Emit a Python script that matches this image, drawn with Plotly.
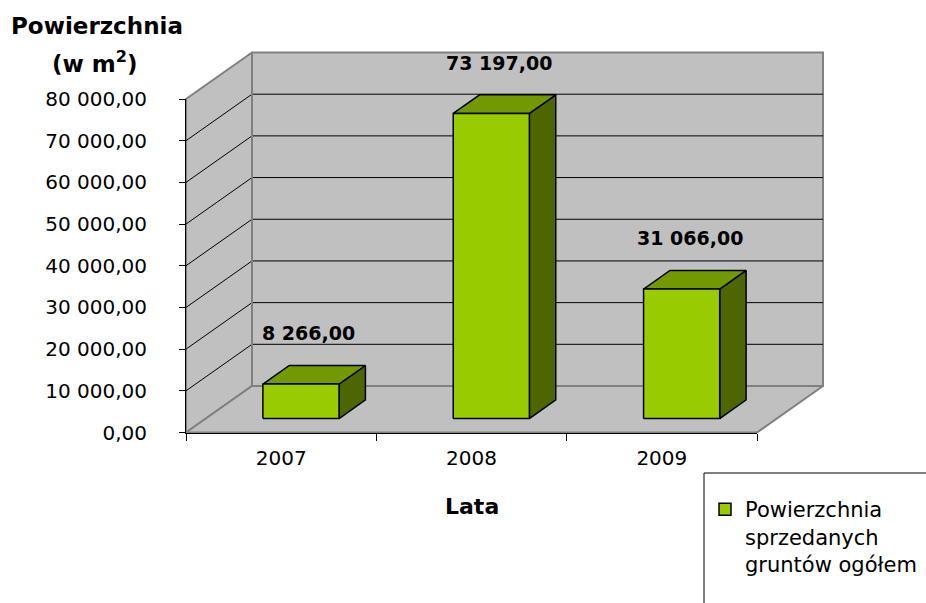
import plotly.graph_objects as go

# ---------------- data ----------------
years = ["2007", "2008", "2009"]
values = [8266.00, 73197.00, 31066.00]
y_ticks = [0, 10000, 20000, 30000, 40000, 50000, 60000, 70000, 80000]
series_name = "Powierzchnia<br>sprzedanych<br>gruntów ogółem"
y_title_1 = "<b>Powierzchnia</b>"
y_title_2 = "<b>(w m<sup>2</sup>)</b>"
x_title = "<b>Lata</b>"

# ---------------- layout geometry ----------------
W, H = 926, 603
PX_LEFT, PX_RIGHT = 186, 757          # front plane, x
PX_ZERO, PX_TOP = 432.5, 99           # front plane, y (0 and 80 000)
DEPTH_DX_PX, DEPTH_DY_PX = 66, 46.5   # 3-D depth offset of back wall
YMAX = 80000
NCAT = len(years)

PXC = (PX_RIGHT - PX_LEFT) / NCAT     # px per category unit
PXV = (PX_ZERO - PX_TOP) / YMAX       # px per value unit
DX = DEPTH_DX_PX / PXC
DY = DEPTH_DY_PX / PXV

GAP = 0.4          # bar width as category fraction
D1, D2 = 0.3, 0.7  # bar depth (front/back) as fraction of full depth

FONT = "DejaVu Sans"
WALL = "#C0C0C0"
WALL_EDGE = "#808080"
FRONT = "#99CC00"
TOP = "#739900"
SIDE = "#4D6600"


def fmt(v):
    return f"{v:,.2f}".replace(",", " ").replace(".", ",")


def poly(xs, ys, fill, line, lw):
    return go.Scatter(
        x=xs + [xs[0]], y=ys + [ys[0]], mode="lines", fill="toself",
        fillcolor=fill, line=dict(color=line, width=lw),
        hoverinfo="skip", showlegend=False,
    )


fig = go.Figure()

# walls and floor
x_end = NCAT
fig.add_trace(poly([DX, x_end + DX, x_end + DX, DX],
                   [DY, DY, YMAX + DY, YMAX + DY], WALL, WALL_EDGE, 2))
fig.add_trace(poly([0, DX, DX, 0], [0, DY, YMAX + DY, YMAX], WALL, WALL_EDGE, 2))
fig.add_trace(poly([0, x_end, x_end + DX, DX], [0, 0, DY, DY], WALL, WALL_EDGE, 2))

# gridlines (left wall + back wall)
gx, gy = [], []
for t in y_ticks[1:-1]:
    gx += [0, DX, x_end + DX, None]
    gy += [t, t + DY, t + DY, None]
fig.add_trace(go.Scatter(x=gx, y=gy, mode="lines", line=dict(color="black", width=1),
                         hoverinfo="skip", showlegend=False))
# re-draw back-wall left edge
fig.add_trace(go.Scatter(x=[DX, DX], y=[DY, YMAX + DY], mode="lines",
                         line=dict(color=WALL_EDGE, width=2), hoverinfo="skip",
                         showlegend=False))

# 3-D bars
for i, v in enumerate(values):
    c = i + 0.5
    xl, xr = c - GAP / 2, c + GAP / 2
    ax1, ay1 = D1 * DX, D1 * DY
    ax2, ay2 = D2 * DX, D2 * DY
    # side face
    fig.add_trace(poly([xr + ax1, xr + ax2, xr + ax2, xr + ax1],
                       [ay1, ay2, v + ay2, v + ay1], SIDE, "black", 1.5))
    # top face
    fig.add_trace(poly([xl + ax1, xr + ax1, xr + ax2, xl + ax2],
                       [v + ay1, v + ay1, v + ay2, v + ay2], TOP, "black", 1.5))
    # front face
    fig.add_trace(poly([xl + ax1, xr + ax1, xr + ax1, xl + ax1],
                       [ay1, ay1, v + ay1, v + ay1], FRONT, "black", 1.5))
    # data label
    fig.add_annotation(x=c + 0.42 * DX, y=v + D2 * DY, xref="x", yref="y",
                       xanchor="center", yanchor="middle",
                       text="<b>" + fmt(v) + "</b>", showarrow=False,
                       yshift=32, font=dict(family=FONT, size=19, color="black"))

# legend entry
fig.add_trace(go.Scatter(x=[None], y=[None], mode="markers", name=series_name,
                         marker=dict(symbol="square", size=12, color=FRONT,
                                     line=dict(color="black", width=1.5)),
                         showlegend=True))

# axis frame subplot (front plane)
fig.add_trace(go.Scatter(x=years, y=[None] * NCAT, xaxis="x2", yaxis="y2",
                         mode="markers", showlegend=False, hoverinfo="skip"))

fig.update_layout(
    width=W, height=H,
    margin=dict(l=0, r=0, t=0, b=0, pad=0, autoexpand=False),
    paper_bgcolor="white", plot_bgcolor="rgba(0,0,0,0)",
    font=dict(family=FONT, color="black"),
    xaxis=dict(domain=[0, 1], range=[-PX_LEFT / PXC, (W - PX_LEFT) / PXC],
               visible=False, fixedrange=True),
    yaxis=dict(domain=[0, 1], range=[-(H - PX_ZERO) / PXV, PX_ZERO / PXV],
               visible=False, fixedrange=True),
    xaxis2=dict(domain=[PX_LEFT / W, PX_RIGHT / W], anchor="y2", type="category",
                categoryorder="array", categoryarray=years, range=[-0.5, NCAT - 0.5],
                showgrid=False, zeroline=False, showline=True, linecolor="black",
                linewidth=1, ticks="outside", tickson="boundaries", ticklen=7,
                tickcolor="black", tickfont=dict(family=FONT, size=20),
                ticklabelstandoff=7, automargin=False, fixedrange=True),
    yaxis2=dict(domain=[(H - PX_ZERO) / H, (H - PX_TOP) / H], anchor="x2",
                range=[0, YMAX], showgrid=False, zeroline=False, showline=True,
                linecolor="black", linewidth=1, ticks="outside", ticklen=6,
                tickcolor="black", tickvals=y_ticks, ticktext=[fmt(t) for t in y_ticks],
                tickfont=dict(family=FONT, size=20), ticklabelstandoff=28,
                automargin=False, fixedrange=True),
    showlegend=True,
    legend=dict(x=705 / W, y=1 - 489 / H, xanchor="left", yanchor="top",
                valign="top", bgcolor="rgba(0,0,0,0)",
                font=dict(family=FONT, size=21, color="black")),
)

# legend frame (extends past the figure edge)
fig.add_shape(type="rect", xref="paper", yref="paper",
              x0=704 / W, x1=1.05, y0=-0.05, y1=1 - 473 / H,
              line=dict(color="black", width=1), fillcolor="rgba(0,0,0,0)", layer="below")

# axis titles
fig.add_annotation(xref="paper", yref="paper", x=97 / W, y=1 - 26 / H, text=y_title_1,
                   xanchor="center", yanchor="middle",
                   showarrow=False, font=dict(family=FONT, size=23))
fig.add_annotation(xref="paper", yref="paper", x=94 / W, y=1 - 62 / H, text=y_title_2,
                   xanchor="center", yanchor="middle",
                   showarrow=False, font=dict(family=FONT, size=23))
fig.add_annotation(xref="paper", yref="paper", x=472 / W, y=1 - 507 / H, text=x_title,
                   xanchor="center", yanchor="middle",
                   showarrow=False, font=dict(family=FONT, size=22))

fig.write_html(
    "out.html",
    config={"displayModeBar": False},
    post_script="document.body.style.margin='0';document.body.style.overflow='hidden';",
)
